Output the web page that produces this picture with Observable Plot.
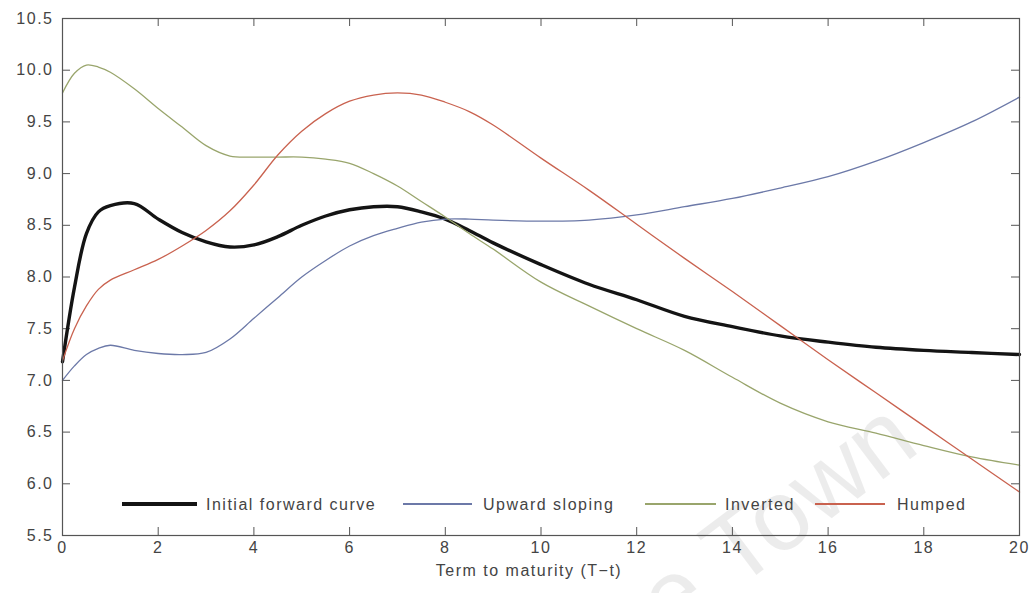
<!DOCTYPE html>
<html>
<head>
<meta charset="utf-8">
<script src="https://cdn.jsdelivr.net/npm/d3@7"></script>
<script src="https://cdn.jsdelivr.net/npm/@observablehq/plot@0.6"></script>
<style>
  body { margin: 0; background: #fff; }
  #wrap { position: relative; width: 1034px; height: 593px; overflow: hidden;
          font-family: "Liberation Sans", Arial, sans-serif; }
  .swatch { position: absolute; }
  .label { position: absolute; font-size: 16px; letter-spacing: 1.5px; color: #444;
           line-height: 16px; white-space: nowrap; }
  .watermark { position: absolute; font-size: 100px; color: rgba(0,0,0,0.075);
               white-space: nowrap; transform-origin: 0 100%; transform: rotate(-37deg);
               pointer-events: none; line-height: 100px; }
</style>
</head>
<body>
<div id="wrap"></div>
<script>
// Term to maturity (years) at which each curve is sampled
const term = [0, 0.25, 0.5, 0.75, 1, 1.5, 2, 2.5, 3, 3.5, 4, 4.5, 5, 5.5, 6, 6.5, 7, 7.5,
              8, 8.5, 9, 10, 11, 12, 13, 14, 15, 16, 17, 18, 19, 20];

// Forward rates (%) for each curve shape
const initialForward = [7.18, 7.9, 8.42, 8.63, 8.69, 8.71, 8.56, 8.43, 8.34, 8.29, 8.31, 8.39, 8.5, 8.59,
                        8.65, 8.68, 8.68, 8.63, 8.56, 8.45, 8.33, 8.12, 7.93, 7.78, 7.62, 7.52, 7.43,
                        7.37, 7.32, 7.29, 7.27, 7.25];
const upwardSloping  = [7.0, 7.14, 7.25, 7.31, 7.34, 7.29, 7.26, 7.25, 7.27, 7.4, 7.6, 7.8, 8.0, 8.16,
                        8.3, 8.4, 8.47, 8.53, 8.56, 8.56, 8.55, 8.54, 8.55, 8.6, 8.68, 8.76, 8.86,
                        8.97, 9.12, 9.3, 9.5, 9.74];
const inverted       = [9.78, 9.97, 10.05, 10.03, 9.98, 9.82, 9.63, 9.45, 9.27, 9.17, 9.16, 9.16, 9.16,
                        9.14, 9.1, 9.0, 8.88, 8.73, 8.58, 8.42, 8.27, 7.95, 7.72, 7.5, 7.29, 7.03,
                        6.78, 6.6, 6.49, 6.37, 6.26, 6.18];
const humped         = [7.19, 7.5, 7.72, 7.88, 7.97, 8.07, 8.17, 8.3, 8.45, 8.64, 8.89, 9.18, 9.41, 9.58,
                        9.7, 9.76, 9.78, 9.76, 9.69, 9.6, 9.47, 9.15, 8.84, 8.51, 8.18, 7.86, 7.53,
                        7.2, 6.88, 6.56, 6.24, 5.92];

const seriesNames  = ["Initial forward curve", "Upward sloping", "Inverted", "Humped"];
const seriesValues = [initialForward, upwardSloping, inverted, humped];
const seriesColors = ["#141414", "#6c79a8", "#99a56c", "#c9624f"];
const seriesWidths = [3.4, 1.3, 1.3, 1.3];

const xTicks = [0, 2, 4, 6, 8, 10, 12, 14, 16, 18, 20];
const yTicks = [5.5, 6, 6.5, 7, 7.5, 8, 8.5, 9, 9.5, 10, 10.5];
const xTitle = "Term to maturity (T\u2212t)";

const W = 1034, H = 593;
const mL = 62, mR = 15, mT = 18, mB = 58;
const fw = W - mL - mR, fh = H - mT - mB;
const tickLen = 8;
const ink = "#555";

const rows = seriesNames.flatMap((name, i) =>
  term.map((t, j) => ({series: name, term: t, rate: seriesValues[i][j]})));

const lineMarks = seriesNames.map((name, i) =>
  Plot.line(rows.filter(r => r.series === name), {
    x: "term", y: "rate", stroke: seriesColors[i], strokeWidth: seriesWidths[i],
    curve: "catmull-rom", strokeLinejoin: "round", strokeLinecap: "round"
  }));

const chart = Plot.plot({
  width: W, height: H,
  marginLeft: mL, marginRight: mR, marginTop: mT, marginBottom: mB,
  style: {fontFamily: "'Liberation Sans', Arial, sans-serif", fontSize: "16px",
          color: "#444", background: "transparent", letterSpacing: "1.5px"},
  x: {domain: [0, 20]},
  y: {domain: [5.5, 10.5]},
  marks: [
    Plot.axisX(xTicks, {anchor: "bottom", tickSize: 0, tickPadding: 6, label: null,
                        tickFormat: d3.format("d"), fill: "#444"}),
    Plot.axisY(yTicks, {anchor: "left", tickSize: 0, tickPadding: 9, label: null,
                        tickFormat: d3.format(".1f"), fill: "#444"}),
    // inward tick marks on all four sides of the box
    Plot.tickX(xTicks, {x: d => d, insetTop: fh - tickLen, stroke: ink}),
    Plot.tickX(xTicks, {x: d => d, insetBottom: fh - tickLen, stroke: ink}),
    Plot.tickY(yTicks, {y: d => d, insetRight: fw - tickLen, stroke: ink}),
    Plot.tickY(yTicks, {y: d => d, insetLeft: fw - tickLen, stroke: ink}),
    ...lineMarks,
    Plot.frame({stroke: ink, strokeWidth: 1.2}),
    Plot.text([xTitle], {text: d => d, frameAnchor: "bottom", dy: 40, dx: -12,
                         fontSize: 16, fill: "#444"})
  ]
});

const wrap = document.getElementById("wrap");

// faint diagonal watermark, underneath the chart
const wm = document.createElement("div");
wm.className = "watermark";
wm.textContent = "Cape Town";
wm.style.left = "533px";
wm.style.top = (762 - 100) + "px";
wrap.appendChild(wm);

chart.style.position = "relative";
wrap.appendChild(chart);

// legend along the bottom of the plotting box
const legendItems = [
  {swatch: [122, 197], text: 206},
  {swatch: [403, 472], text: 483},
  {swatch: [645, 716], text: 725},
  {swatch: [815, 885], text: 897}
];
const legendY = 504;
legendItems.forEach((item, i) => {
  const sw = document.createElement("div");
  sw.className = "swatch";
  const h = Math.max(1.5, seriesWidths[i]);
  sw.style.left = item.swatch[0] + "px";
  sw.style.width = (item.swatch[1] - item.swatch[0]) + "px";
  sw.style.height = h + "px";
  sw.style.background = seriesColors[i];
  sw.style.top = (legendY - h / 2) + "px";
  wrap.appendChild(sw);
  const tx = document.createElement("div");
  tx.className = "label";
  tx.style.left = item.text + "px";
  tx.style.top = (legendY - 7) + "px";
  tx.textContent = seriesNames[i];
  wrap.appendChild(tx);
});
</script>
</body>
</html>
